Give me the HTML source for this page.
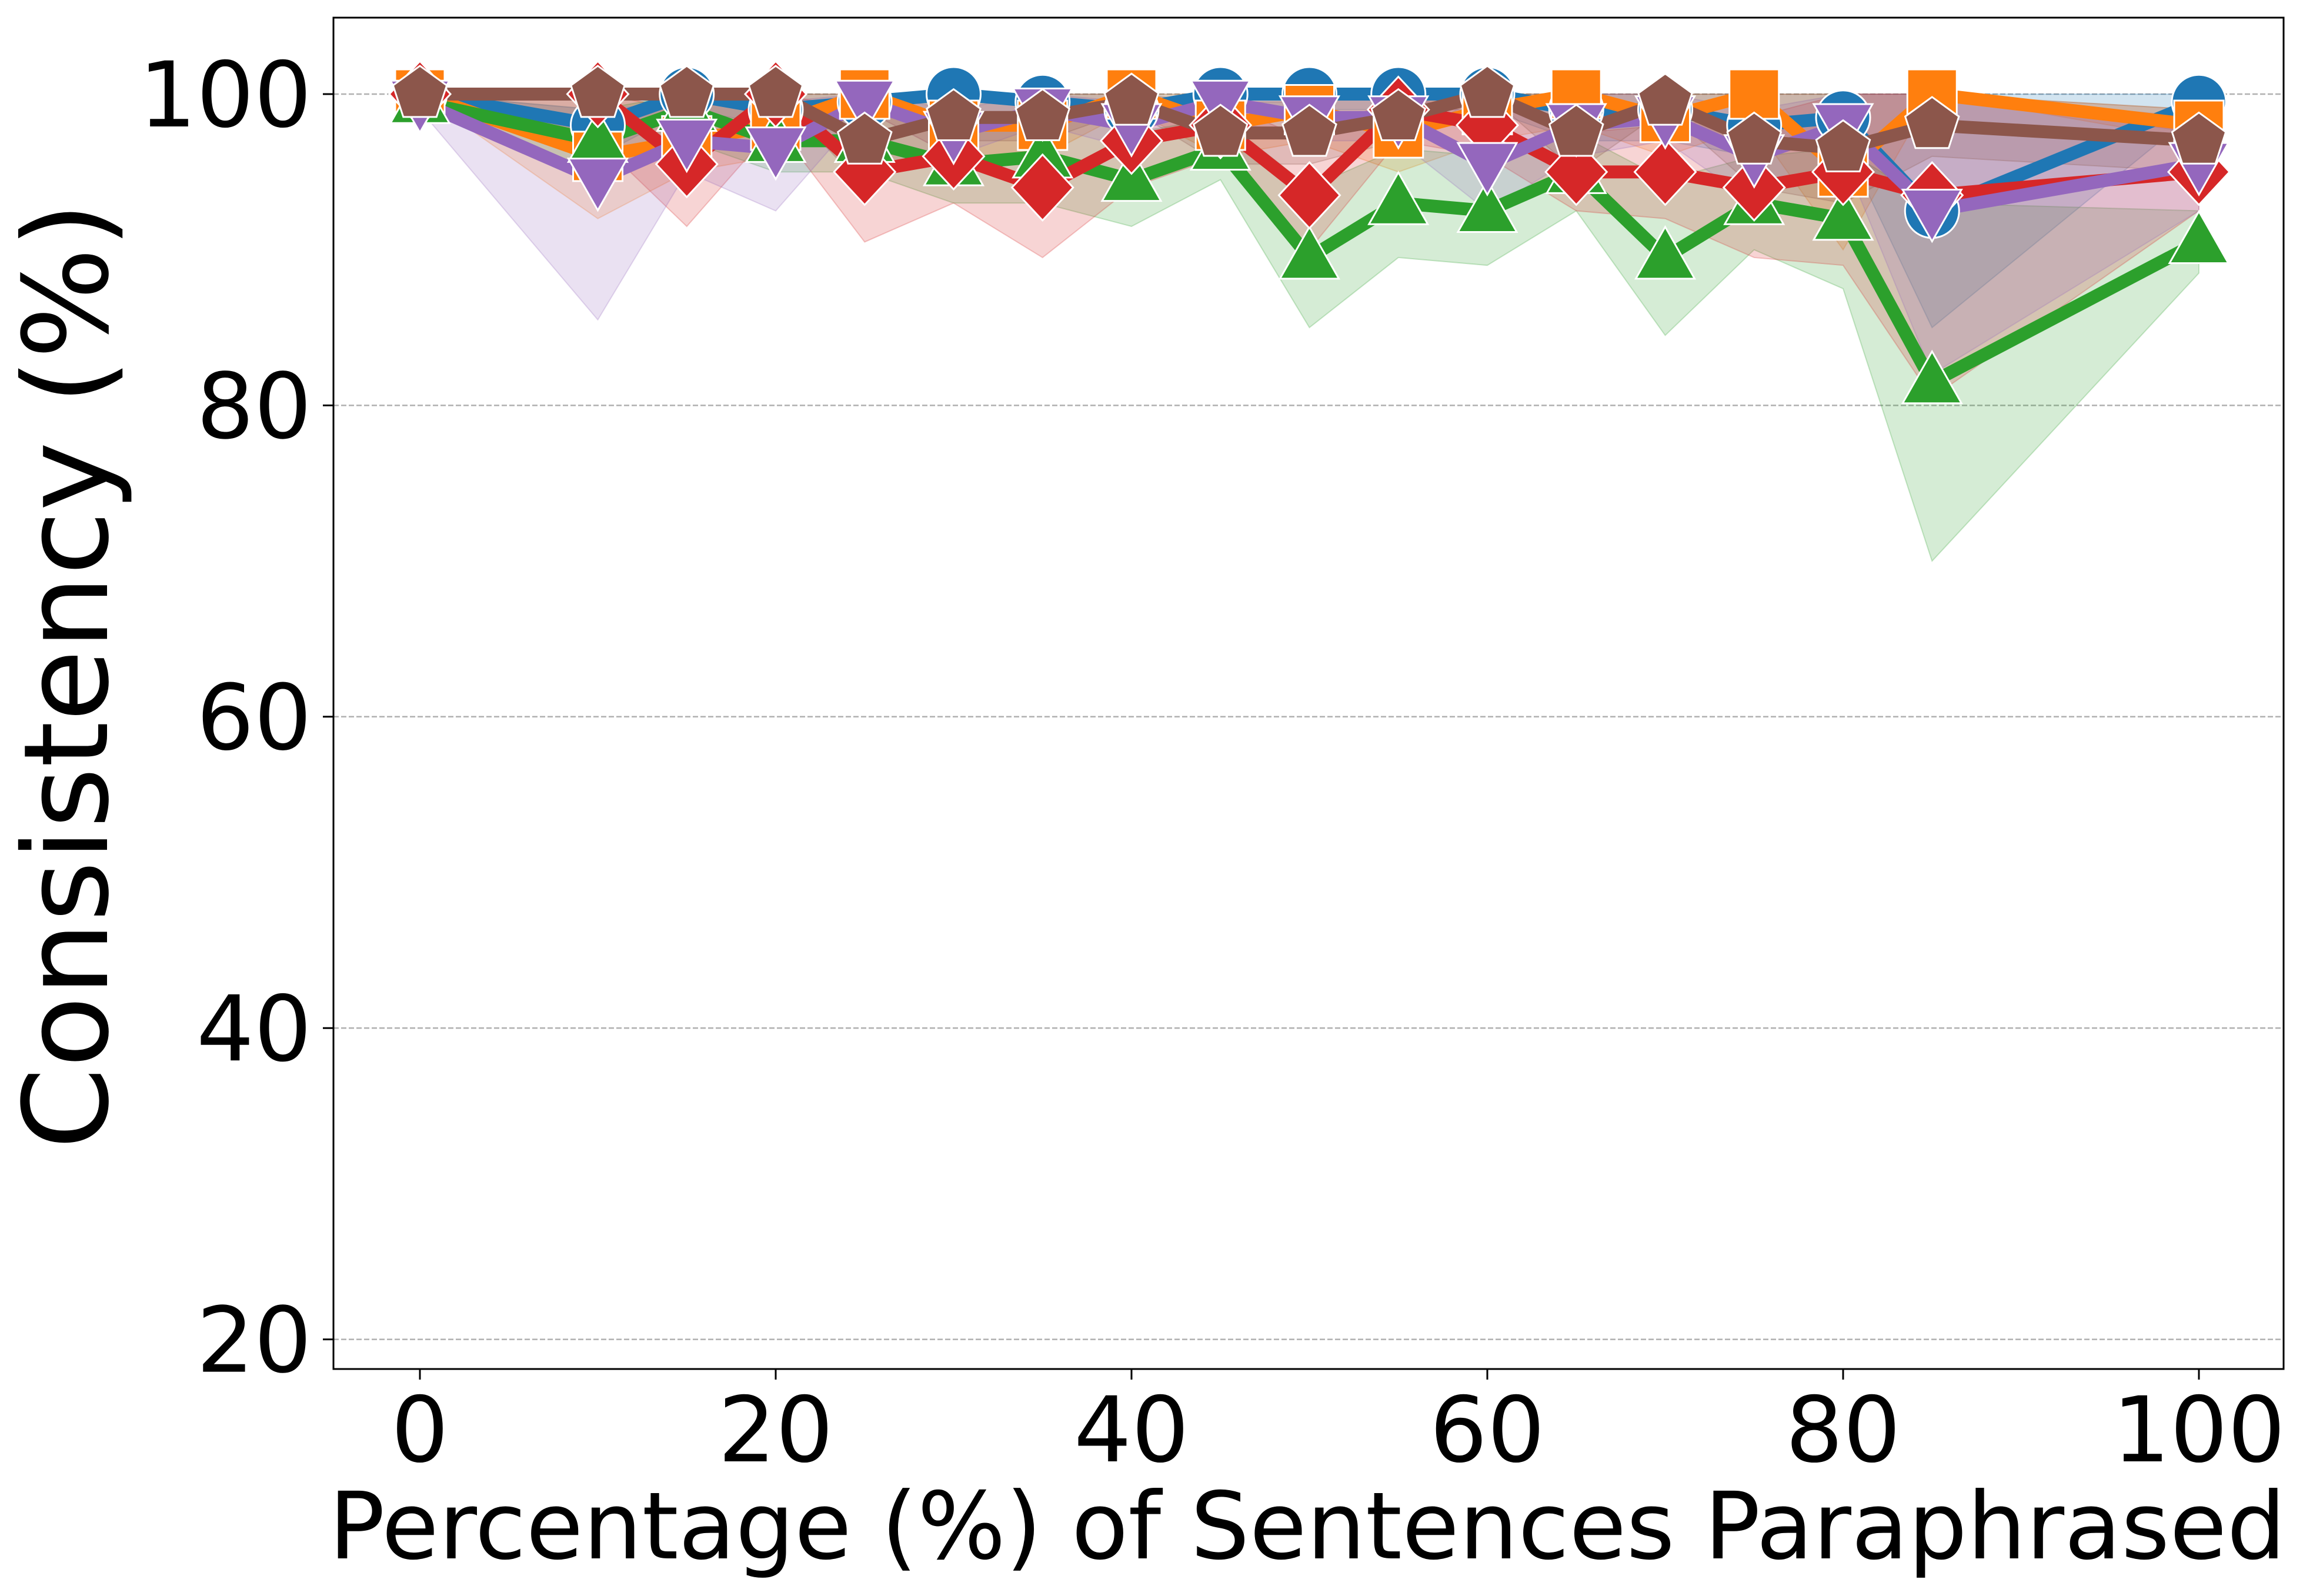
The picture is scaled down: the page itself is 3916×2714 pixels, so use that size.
<!DOCTYPE html>
<html><head><meta charset="utf-8"><style>
html,body{margin:0;padding:0;background:#fff;}
svg{display:block;}
text{font-family:"DejaVu Sans","Liberation Sans",sans-serif;fill:#000;}
</style></head><body>
<svg id="s" width="3916" height="2714" viewBox="0 0 3916 2714" xmlns="http://www.w3.org/2000/svg">
<rect x="0" y="0" width="3916" height="2714" fill="#fff"/>
<g id="grid"></g>
<g id="bands"></g>
<g id="lines"></g>
<g id="marks"></g>
<rect x="567" y="30" width="3316" height="2298" fill="none" stroke="#000" stroke-width="3"/>
<g id="ticks" font-size="154"></g>
<text x="2223" y="2650" font-size="158" text-anchor="middle">Percentage (%) of Sentences Paraphrased</text>
<text transform="translate(182,1149) rotate(-90)" font-size="199" text-anchor="middle">Consistency (%)</text>
</svg>
<script>
const NS="http://www.w3.org/2000/svg";
const X=v=>714+v*30.25, Y=v=>160+(100-v)*26.47;
function el(p,t,a){const e=document.createElementNS(NS,t);for(const k in a)e.setAttribute(k,a[k]);document.getElementById(p).appendChild(e);return e;}
[20,40,60,80,100].forEach(v=>{
 el("grid","line",{x1:567,x2:3883,y1:Y(v),y2:Y(v),stroke:"#b0b0b0","stroke-width":2.5,"stroke-dasharray":"9,4"});
 el("ticks","line",{x1:567,x2:549,y1:Y(v),y2:Y(v),stroke:"#000","stroke-width":3});
 const t=el("ticks","text",{x:530,y:Y(v)+55,"text-anchor":"end"});t.textContent=v;
});
[0,20,40,60,80,100].forEach(v=>{
 el("ticks","line",{x1:X(v),x2:X(v),y1:2328,y2:2346,stroke:"#000","stroke-width":3});
 const t=el("ticks","text",{x:X(v),y:2485,"text-anchor":"middle"});t.textContent=v;
});
const xs=[0,10,15,20,25,30,35,40,45,50,55,60,65,70,75,80,85,100];
const S=[
 {c:"#1f77b4",m:"o",v:[100,98,100,99,99.5,100,99.5,99,100,100,100,100,99,99,98,98.5,92.5,99.5],lo:[100,96,99,98,99,99,98.5,98,99,99,99,99,97,97,96,97,85,99],hi:[100,100,100,100,100,100,100,100,100,100,100,100,100,100,100,100,100,100]},
 {c:"#ff7f0e",m:"s",v:[100,96,97,98,100,98,98,100,98,99,97.5,99,100,98.5,100,95,100,98],lo:[100,92,95,96,99,96,96,99,96,97,95,97,98,96,98,90,100,97],hi:[100,100,99,100,100,100,100,100,100,100,100,100,100,100,100,100,100,99]},
 {c:"#2ca02c",m:"^",v:[99.5,97,99,97,97,95.5,96,94.5,96.5,89.5,93,92.5,95,89.5,93,92,81.5,90.5],lo:[99,95,97,95,95,93,93,91.5,94.5,85,89.5,89,92.5,84.5,90,87.5,70,88.5],hi:[100,99,100,99,99,98,99,97.5,98.5,94,96.5,96,97.5,94.5,96,96.5,93,92.5]},
 {c:"#d62728",m:"D",v:[100,100,95.5,100,95,96,94,97,98,93.5,99,98,95,95,94,95,93.5,95],lo:[99.5,97,91.5,98,90.5,93,89.5,94,96,90,97,96,92.5,92,89.5,89,80.5,92.5],hi:[100,100,99,100,99,99,98,99.5,99.5,97,100,100,97.5,98,98.5,100,100,97.5]},
 {c:"#9467bd",m:"v",v:[99.5,94.5,97,96.5,99.5,97.5,99,98,99.5,98.5,98.5,95.5,98,98.5,96,98,92.5,95.5],lo:[99,85.5,95,92.5,99,96,98,96.5,98.5,97,97,92.5,96,97,93,96,82,92.5],hi:[100,99,99.5,99.5,100,99,100,99.5,100,100,100,98.5,100,100,99,100,100,98.5]},
 {c:"#8c564b",m:"p",v:[100,100,100,100,97,98.5,98.5,99.5,97.5,97.5,98.5,100,97.5,99.5,97,96.5,98,97],lo:[100,100,100,100,94,97,97,99,95.5,95.5,97,100,95,99,94,93,96,95],hi:[100,100,100,100,100,100,100,100,99.5,99.5,100,100,100,100,100,100,100,99]}
];
S.forEach(s=>{
 let d="M"+xs.map((x,i)=>X(x)+","+Y(s.hi[i])).join("L")+"L"+xs.slice().reverse().map((x,j)=>X(x)+","+Y(s.lo[xs.length-1-j])).join("L")+"Z";
 el("bands","path",{d:d,fill:s.c,"fill-opacity":0.2,stroke:s.c,"stroke-opacity":0.25,"stroke-width":2});
});
S.forEach(s=>{
 el("lines","polyline",{points:xs.map((x,i)=>X(x)+","+Y(s.v[i])).join(" "),fill:"none",stroke:s.c,"stroke-width":22,"stroke-linejoin":"round","stroke-linecap":"round"});
});
function poly(cx,cy,pts){return pts.map(p=>(cx+p[0])+","+(cy+p[1])).join(" ");}
S.forEach(s=>{
 xs.forEach((x,i)=>{
  const cx=X(x),cy=Y(s.v[i]),a={fill:s.c,stroke:"#fff","stroke-width":3};
  let r=46,pts;
  if(s.m=="o"){el("marks","circle",Object.assign({cx:cx,cy:cy,r:r},a));return;}
  if(s.m=="s")pts=[[-42,-42],[42,-42],[42,42],[-42,42]];
  if(s.m=="^")pts=[[0,-52],[50,36],[-50,36]];
  if(s.m=="v")pts=[[0,52],[50,-36],[-50,-36]];
  if(s.m=="D")pts=[[0,-56],[52,0],[0,56],[-52,0]];
  if(s.m=="p"){pts=[];for(let k=0;k<5;k++){const t=-Math.PI/2+k*2*Math.PI/5;pts.push([48*Math.cos(t),48*Math.sin(t)]);}}
  a.points=poly(cx,cy,pts);el("marks","polygon",a);
 });
});
</script>
</body></html>
